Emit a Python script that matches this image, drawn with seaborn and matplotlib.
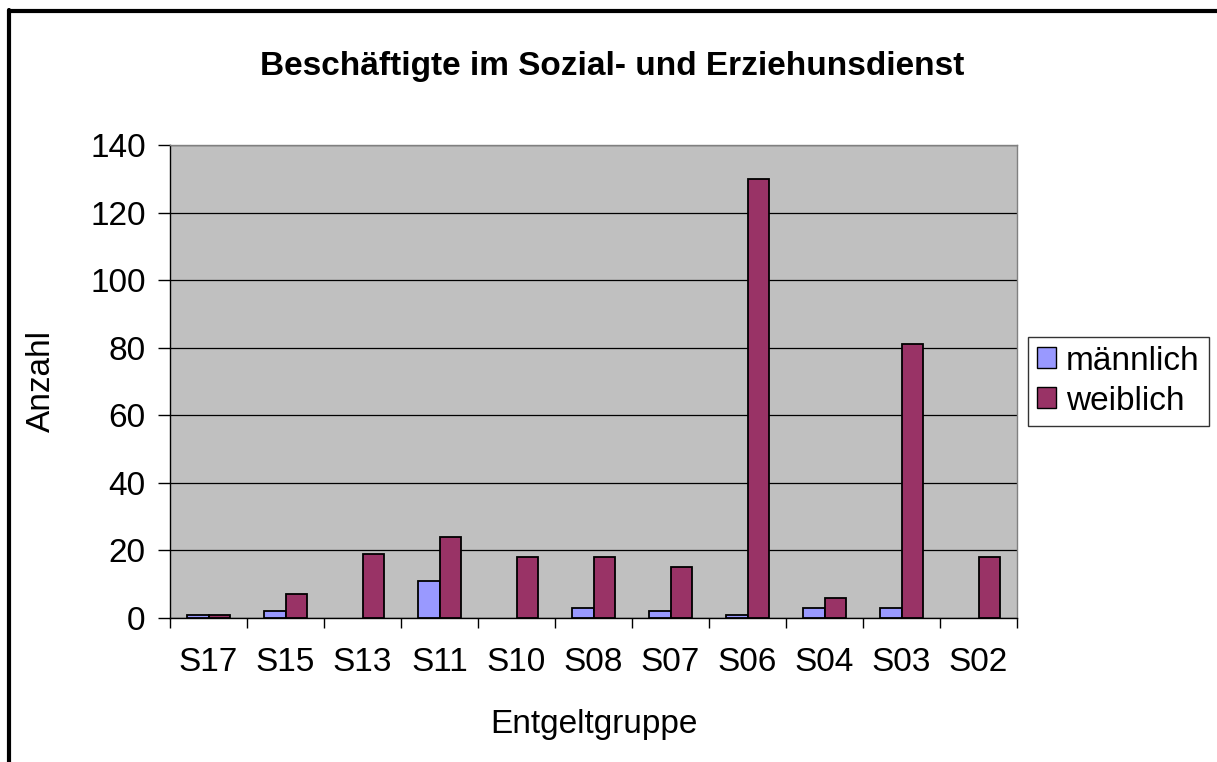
import numpy as np
import pandas as pd
import seaborn as sns
import matplotlib.pyplot as plt
from matplotlib.lines import Line2D
from matplotlib.patches import Patch
from matplotlib.ticker import FixedLocator

groups = ["S17", "S15", "S13", "S11", "S10", "S08", "S07", "S06", "S04", "S03", "S02"]
maennlich = [1, 2, 0, 11, 0, 3, 2, 1, 3, 3, 0]
weiblich = [1, 7, 19, 24, 18, 18, 15, 130, 6, 81, 18]
series_names = ["männlich", "weiblich"]
colors = ["#9999FF", "#993366"]
yticks = [0, 20, 40, 60, 80, 100, 120, 140]

df = pd.DataFrame({
    "Entgeltgruppe": groups * 2,
    "Anzahl": maennlich + weiblich,
    "Geschlecht": [series_names[0]] * len(groups) + [series_names[1]] * len(groups),
})

sns.set_style("white")
plt.rcParams["font.family"] = ["Liberation Sans", "DejaVu Sans"]
plt.rcParams["text.color"] = "black"
plt.rcParams["axes.labelcolor"] = "black"
plt.rcParams["xtick.color"] = "black"
plt.rcParams["ytick.color"] = "black"

fig = plt.figure(figsize=(12.17, 7.62), dpi=100)
ax = fig.add_axes([170 / 1217, 1 - 618 / 762, 847 / 1217, 473 / 762])
ax.set_facecolor("#C0C0C0")

sns.barplot(data=df, x="Entgeltgruppe", y="Anzahl", hue="Geschlecht",
            order=groups, hue_order=series_names,
            palette=colors, saturation=1, width=0.57,
            edgecolor="black", linewidth=1.3, ax=ax, zorder=3, legend=False)

# hide empty bars
for p in ax.patches:
    if p.get_height() == 0:
        p.set_visible(False)

ax.set_ylim(0, 140)
ax.set_xlim(-0.5, len(groups) - 0.5)
ax.set_yticks(yticks)
ax.yaxis.grid(True, color="black", linewidth=0.9, zorder=1)
ax.set_axisbelow(True)

ax.tick_params(axis="y", which="major", direction="out", length=8.5, width=1,
               color="black", labelsize=24, left=True, pad=9)
ax.tick_params(axis="x", which="major", length=0, labelsize=24, pad=21)
ax.xaxis.set_minor_locator(FixedLocator(np.arange(-0.5, len(groups), 1.0)))
ax.tick_params(axis="x", which="minor", direction="out", length=7, width=1,
               color="black", bottom=True)

for side in ["top", "right"]:
    ax.spines[side].set_color("#808080")
    ax.spines[side].set_linewidth(1)
for side in ["left", "bottom"]:
    ax.spines[side].set_color("black")
    ax.spines[side].set_linewidth(1)

ax.set_xlabel("Entgeltgruppe", fontsize=24, labelpad=22)
ax.set_ylabel("Anzahl", fontsize=24, labelpad=24)

fig.text(612 / 1217, 1 - 66 / 762, "Beschäftigte im Sozial- und Erziehunsdienst",
         ha="center", va="center", fontsize=24, fontweight="bold")

handles = [Patch(facecolor=c, edgecolor="black", linewidth=1, label=n)
           for c, n in zip(colors, series_names)]
leg = ax.legend(handles=handles, loc="center left",
                bbox_to_anchor=((1028 - 170) / 847, (618 - 381) / 473),
                fontsize=24, frameon=True, fancybox=False, edgecolor="black",
                handlelength=0.57, handleheight=0.57, handletextpad=0.3,
                borderpad=0.27, labelspacing=0.27, borderaxespad=0)
leg.get_frame().set_linewidth(1)

# outer chart border
fig.add_artist(Line2D([9 / 1217, 9 / 1217], [0, 1 - 10 / 762], color="black",
                      linewidth=3, transform=fig.transFigure))
fig.add_artist(Line2D([9 / 1217, 1], [1 - 11 / 762, 1 - 11 / 762], color="black",
                      linewidth=3, transform=fig.transFigure))

fig.savefig("out.png", dpi=100)
